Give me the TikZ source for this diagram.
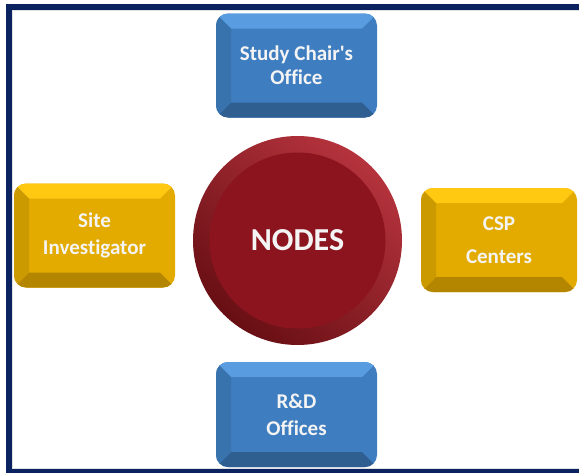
\documentclass[tikz,border=0pt]{standalone}
\usepackage{fontspec}
\setmainfont{Carlito}[Ligatures={NoCommon}]
\usetikzlibrary{backgrounds,calc}
\definecolor{navy}{HTML}{0A2360}
\definecolor{bmain}{HTML}{3E7DC0}
\definecolor{blight}{HTML}{599CDF}
\definecolor{bdark}{HTML}{2F5E91}
\definecolor{bleft}{HTML}{3873AE}
\definecolor{ymain}{HTML}{E3AB00}
\definecolor{ylight}{HTML}{FFC912}
\definecolor{ydark}{HTML}{B48600}
\definecolor{yleft}{HTML}{CB9900}
\definecolor{rmain}{HTML}{8C141E}
\definecolor{rlight}{HTML}{B5333D}
\definecolor{rdark}{HTML}{680F14}
\definecolor{txt}{HTML}{F4F4F4}
\tikzset{
  bevelbox/.style n args={4}{rectangle, rounded corners=12pt, inner sep=0pt,
    minimum width=161pt, minimum height=104pt, fill=#1, text=txt, align=center,
    path picture={
      \fill[#2, sharp corners] (path picture bounding box.north west) -- (path picture bounding box.north east)
        -- ([shift={(-15pt,-15pt)}]path picture bounding box.north east)
        -- ([shift={(15pt,-15pt)}]path picture bounding box.north west) -- cycle;
      \fill[#3, sharp corners] (path picture bounding box.south west) -- (path picture bounding box.south east)
        -- ([shift={(-15pt,15pt)}]path picture bounding box.south east)
        -- ([shift={(15pt,15pt)}]path picture bounding box.south west) -- cycle;
      \fill[#4, sharp corners] (path picture bounding box.north west) -- ([shift={(15pt,-15pt)}]path picture bounding box.north west)
        -- ([shift={(15pt,15pt)}]path picture bounding box.south west)
        -- (path picture bounding box.south west) -- cycle;
    }},
  bluebox/.style={bevelbox={bmain}{blight}{bdark}{bleft}},
  goldbox/.style={bevelbox={ymain}{ylight}{ydark}{yleft}},
  conn/.style={draw=navy, line width=20pt},
  hub/.style={circle, inner sep=0pt, minimum size=209pt, text=txt,
    top color=rlight, bottom color=rdark, shading angle=-40,
    font=\bfseries\fontsize{32}{36}\selectfont,
    path picture={\fill[rmain] (path picture bounding box.center) circle (88pt);}},
}
\begin{document}
\begin{tikzpicture}[x=1pt,y=-1pt]
\useasboundingbox (0,0) rectangle (579,472);
\fill[white] (0,0) rectangle (579,472);
% nodes
\node[hub] (nodes) at (297.5,240.5) {NODES};
\node[bluebox, font=\bfseries\fontsize{21}{24}\selectfont] (top) at (296.5,65.5) {Study Chair\textquotesingle s\\Office};
\node[bluebox, minimum height=105pt, font=\bfseries\fontsize{21}{27}\selectfont] (bottom) at (296.5,414.5) {R\&D\\Offices};
\node[goldbox, font=\bfseries\fontsize{21}{27}\selectfont] (left) at (94.5,235.5) {Site\\Investigator};
\node[goldbox, minimum width=156pt, font=\bfseries\fontsize{21}{33}\selectfont] (right) at (499,240) {CSP\\Centers};
% connectors
\begin{pgfonlayer}{background}
\draw[conn] (top) -- (top |- nodes);
\draw[conn] (bottom) -- (bottom |- nodes);
\draw[conn, line width=19pt] (left) -- (left -| nodes);
\draw[conn, line width=19pt] (right) -- (right -| nodes);
\end{pgfonlayer}
% frame
\draw[black!12, line width=1pt] (12.5,10.5) rectangle (600,468.5);
\draw[navy, line width=6pt] (9,7) rectangle (600,472);
\end{tikzpicture}
\end{document}
